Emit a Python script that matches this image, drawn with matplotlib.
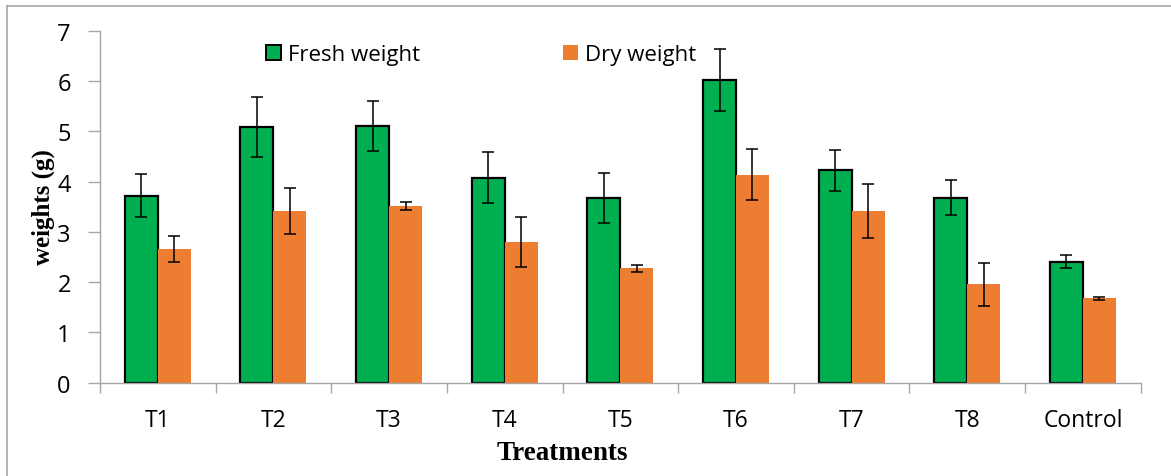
import matplotlib
matplotlib.use("Agg")
import matplotlib.pyplot as plt
from matplotlib.lines import Line2D
from matplotlib.patches import Patch
import numpy as np

treatments = ["T1", "T2", "T3", "T4", "T5", "T6", "T7", "T8", "Control"]
fresh = [3.72, 5.08, 5.10, 4.08, 3.67, 6.02, 4.22, 3.68, 2.41]
fresh_err = [0.43, 0.60, 0.50, 0.50, 0.50, 0.61, 0.41, 0.35, 0.12]
dry = [2.66, 3.41, 3.51, 2.80, 2.28, 4.14, 3.42, 1.96, 1.68]
dry_err = [0.25, 0.46, 0.08, 0.50, 0.07, 0.51, 0.54, 0.43, 0.03]

GREEN = "#00b050"
ORANGE = "#ed7d31"
GREY = "#a6a6a6"
SANS = ["Open Sans", "DejaVu Sans"]
SERIF = ["Liberation Serif", "DejaVu Serif"]

W, H = 1171, 477
fig = plt.figure(figsize=(W / 100, H / 100), dpi=100)
ax = fig.add_axes([100 / W, 1 - 383.7 / H, 1040.7 / W, 352 / H])

x = np.arange(len(treatments))
bw = 0.285
err_kw = dict(ecolor="black", elinewidth=1.1, capsize=4.5, capthick=1.1)
ax.bar(x - bw / 2, fresh, bw, color=GREEN, edgecolor="black", linewidth=1.6,
       yerr=fresh_err, error_kw=err_kw, zorder=2)
ax.bar(x + bw / 2, dry, bw, color=ORANGE, edgecolor="none",
       yerr=dry_err, error_kw=err_kw, zorder=2)

ax.set_xlim(-0.5, len(treatments) - 0.5)
ax.set_ylim(0, 7)
ax.set_yticks(range(8))
ax.set_xticks(x)
ax.set_xticklabels(treatments)
ax.set_xticks(np.arange(-0.5, len(treatments)), minor=True)
ax.tick_params(axis="x", which="major", length=0, pad=18, labelsize=16.5)
ax.tick_params(axis="x", which="minor", length=7, width=1, color=GREY)
ax.tick_params(axis="y", length=9, width=1, color=GREY, pad=12, labelsize=17)
for lab in ax.get_xticklabels() + ax.get_yticklabels():
    lab.set_family(SANS)

for side in ("top", "right"):
    ax.spines[side].set_visible(False)
for side in ("left", "bottom"):
    ax.spines[side].set_color(GREY)
    ax.spines[side].set_linewidth(1.0)

handles = [Patch(facecolor=GREEN, edgecolor="black", linewidth=1.4, label="Fresh weight"),
           Patch(facecolor=ORANGE, edgecolor="none", label="Dry weight")]
ax.legend(handles=handles, ncol=2, frameon=False, loc="center left",
          bbox_to_anchor=((266 - 100) / 1040.7, (383.7 - 56) / 352),
          prop={"family": SANS, "size": 16}, handlelength=0.68, handleheight=0.68,
          handletextpad=0.3, columnspacing=6.45, borderaxespad=0, borderpad=0)

fig.text(562 / W, 1 - 454 / H, "Treatments", ha="center", va="center",
         family=SERIF, fontweight="bold", fontsize=19.5)
fig.text(43 / W, 1 - 207 / H, "weights (g)", ha="center", va="center", rotation=90,
         family=SERIF, fontweight="bold", fontsize=18)

fig.add_artist(Line2D([7 / W, 1], [1 - 7 / H, 1 - 7 / H], color=GREY, linewidth=1.2))
fig.add_artist(Line2D([7 / W, 7 / W], [0, 1 - 7 / H], color=GREY, linewidth=1.2))

fig.savefig("out.png", dpi=100)
